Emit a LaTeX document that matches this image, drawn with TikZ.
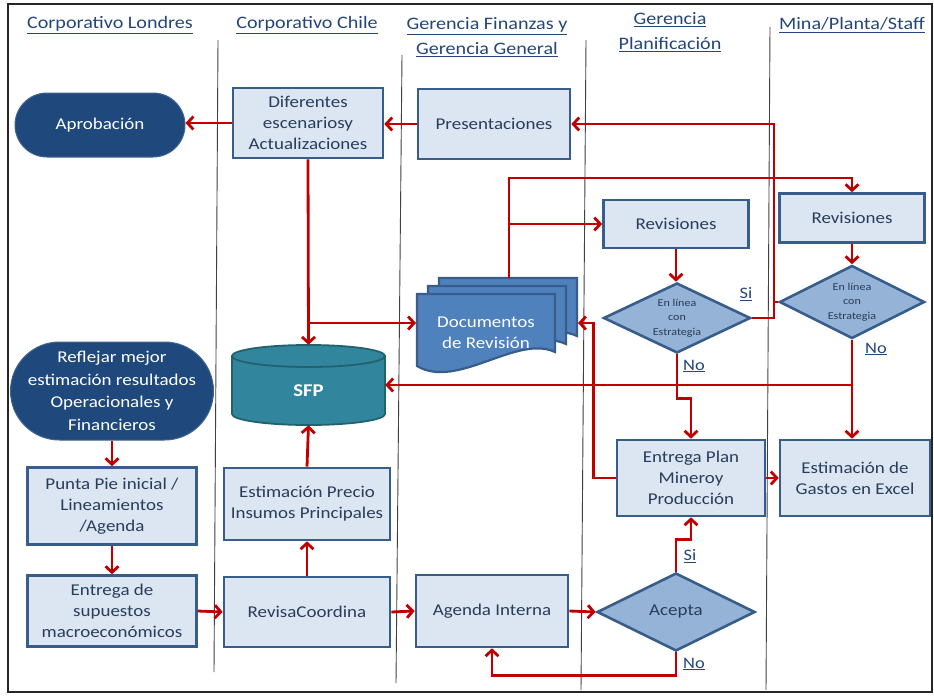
\documentclass[tikz,border=0pt]{standalone}
\usepackage{fontspec}
\setmainfont{Carlito}[FakeStretch=1.15]
\usetikzlibrary{arrows.meta,shapes.geometric}
\definecolor{lnk}{HTML}{C00000}
\definecolor{boxf}{HTML}{DCE6F2}
\definecolor{boxd}{HTML}{385D8A}
\definecolor{txtc}{HTML}{283C5C}
\definecolor{hdrc}{HTML}{24467A}
\definecolor{darkc}{HTML}{1F497D}
\definecolor{diac}{HTML}{95B3D7}
\definecolor{docf}{HTML}{4F81BD}
\definecolor{sfpc}{HTML}{31859C}
\definecolor{sfpd}{HTML}{22626F}
\begin{document}
\begin{tikzpicture}[x=1pt,y=-1pt,
 box/.style={draw=boxd, fill=boxf, line width=2.6pt, align=center, text=txtc, inner sep=0pt, font=\fontsize{16.5}{21}\selectfont},
 term/.style={draw=darkc!85!white, fill=darkc, line width=1pt, align=center, text=white, inner sep=0pt, font=\fontsize{16.5}{22.5}\selectfont},
 dec/.style={shape=diamond, draw=boxd, fill=diac, line width=2.6pt, align=center, text=txtc, inner sep=0pt, aspect=2},
 hdrtext/.style={text=hdrc, align=center, font=\fontsize{17.5}{25}\selectfont},
 lab/.style={text=hdrc, font=\fontsize{16}{20}\selectfont},
 link/.style={draw=lnk, line width=2.8pt, -{Straight Barb[length=6pt,width=13pt]}},
 plain/.style={draw=lnk, line width=2.8pt},
 lane/.style={draw=black!75, line width=0.9pt},
 docst/.style={draw=boxd, fill=docf, line width=2.2pt}]
\useasboundingbox (0,0) rectangle (934,696);
\fill[white] (0,0) rectangle (934,696);
\draw[line width=1.3pt, black!85] (8,4) rectangle (932,692);
% lanes
\draw[lane] (218,40) -- (214,672);
\draw[lane] (402,55) -- (396,683);
\draw[lane] (586,40) -- (581,690);
\draw[lane] (770,27) -- (766,690);
% headers
\node[hdrtext] (h1) at (110,25) {\underline{Corporativo Londres}};
\node[hdrtext] (h2) at (307,25) {\underline{Corporativo Chile}};
\node[hdrtext] (h3) at (487,37.5) {\underline{Gerencia Finanzas y}\\\underline{Gerencia General}};
\node[hdrtext] (h4) at (670,32.5) {\underline{Gerencia}\\\underline{Planificación}};
\node[hdrtext] (h5) at (852,25) {\underline{Mina/Planta/Staff}};
% nodes
\node[term, rounded corners=32pt, minimum width=170pt, minimum height=64pt] (apro) at (100,125) {Aprobación};
\node[box, minimum width=150pt, minimum height=70pt] (dif) at (308,123) {Diferentes\\escenariosy\\Actualizaciones};
\node[box, minimum width=152pt, minimum height=70pt] (pres) at (494,124) {Presentaciones};
\node[box, minimum width=145pt, minimum height=48pt] (rev1) at (676,224) {Revisiones};
\node[box, minimum width=145pt, minimum height=49pt] (rev2) at (852,218) {Revisiones};
\node[dec, minimum width=147pt, minimum height=70pt, font=\fontsize{10.5}{14.5}\selectfont] (est1) at (677,318) {En línea\\con\\Estrategia};
\node[dec, minimum width=145pt, minimum height=73pt, font=\fontsize{10.5}{14.5}\selectfont] (est2) at (852,302) {En línea\\con\\Estrategia};
% documents
\foreach \dx/\dy in {22/-16, 11/-8, 0/0} {
  \filldraw[docst, shift={(\dx,\dy)}] (417,294) -- (555,294) -- (555,352) .. controls (517,334) and (457,390) .. (417,366) -- cycle;
}
\node[font=\fontsize{16.5}{21}\selectfont, text=white, align=center, inner sep=0pt] (docs) at (486,333) {Documentos\\de Revisión};
\coordinate (doctop) at (509,278);
\coordinate (docin) at (416,323);
\coordinate (docR) at (578,323);
% SFP cylinder
\filldraw[fill=sfpc, draw=sfpd, line width=1.8pt] (232,356) -- (232,414) arc[start angle=180,end angle=360,x radius=76.5pt,y radius=11pt] -- (385,356) -- cycle;
\filldraw[fill=sfpc, draw=sfpd, line width=1.8pt] (308.5,356) ellipse[x radius=76.5pt, y radius=11pt];
\node[minimum width=153pt, minimum height=80pt, inner sep=0pt] (sfp) at (308.5,385) {};
\node[font=\bfseries\fontsize{18}{20}\selectfont, text=white, inner sep=0pt] (sfptext) at (308.5,391) {SFP};
\node[term, rounded corners=49pt, minimum width=203pt, minimum height=98pt] (refl) at (112,391) {Reflejar mejor\\estimación resultados\\Operacionales y\\Financieros};
\node[box, minimum width=169pt, minimum height=77pt] (punta) at (112,506) {Punta Pie inicial /\\Lineamientos\\/Agenda};
\node[box, minimum width=169pt, minimum height=71pt] (entsup) at (112,611) {Entrega de\\supuestos\\macroeconómicos};
\node[box, minimum width=166pt, minimum height=72pt] (estp) at (307,504) {Estimación Precio\\Insumos Principales};
\node[box, minimum width=166pt, minimum height=70pt] (revc) at (307,612) {RevisaCoordina};
\node[box, minimum width=152pt, minimum height=72pt] (agenda) at (492,611) {Agenda Interna};
\node[dec, minimum width=158pt, minimum height=78pt, font=\fontsize{16.5}{21}\selectfont] (acepta) at (676,612) {Acepta};
\node[box, minimum width=148pt, minimum height=76pt] (entplan) at (691,478) {Entrega Plan\\Mineroy\\Producción};
\node[box, minimum width=150pt, minimum height=76pt] (gastos) at (855,478) {Estimación de\\Gastos en Excel};
% labels
\node[lab] (si1) at (746,294) {\underline{Si}};
\node[lab] (no1) at (694,366) {\underline{No}};
\node[lab] (no2) at (876,349) {\underline{No}};
\node[lab] (si2) at (690,556) {\underline{Si}};
\node[lab] (no3) at (694,664) {\underline{No}};
% connectors
\coordinate (jx) at (774,0);
\coordinate (ytop) at (0,178);
\draw[link] (dif.west) -- (dif.west -| apro.east);
\draw[link] (pres.west) -- (pres.west -| dif.east);
\draw[link] (est1.east) -- (est1.east -| jx) -- (pres.east -| jx) -- (pres.east);
\draw[plain] (est2.west) -- (est2.west -| jx);
\draw[link] (doctop) -- (doctop |- ytop) -| (rev2.north);
\draw[link] (doctop |- rev1.west) -- (rev1.west);
\draw[link] (rev1.south) -- (rev1.south |- est1.north);
\draw[link] (rev2.south) -- (est2.north);
\draw[link] (dif.south) -- (sfp.north);
\draw[link] (dif.south |- docin) -- (docin);
\draw[link] (est1.south) -- ++(0,44) -| (entplan.north);
\draw[link] (est2.south) -- (est2.south |- gastos.north);
\draw[link] (est2.south |- sfp.east) -- (sfp.east);
\draw[link] (entplan.west) -- ++(-22,0) |- (docR);
\draw[link] (entplan.east) -- (gastos.west);
\draw[link] (estp.north) -- (sfp.south);
\draw[link] (revc.north) -- (estp.south);
\draw[link] (refl.south) -- (punta.north);
\draw[link] (punta.south) -- (entsup.north);
\draw[link] (entsup.east) -- (revc.west);
\draw[link] (revc.east) -- (agenda.west);
\draw[link] (agenda.east) -- (acepta.west);
\draw[link] (acepta.north) -- ++(0,-32) -| (entplan.south);
\draw[link] (acepta.south) -- ++(0,23) -| (agenda.south);
\end{tikzpicture}
\end{document}
